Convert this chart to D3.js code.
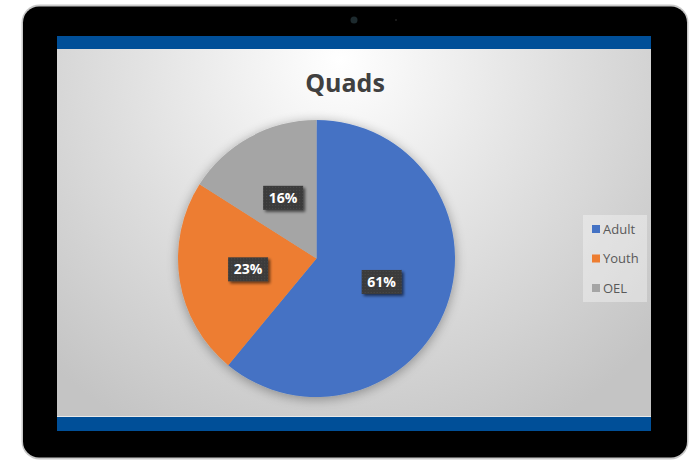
<!DOCTYPE html>
<html>
<head>
<meta charset="utf-8">
<script src="https://cdn.jsdelivr.net/npm/d3@7"></script>
<style>
  html, body { margin: 0; padding: 0; background: #ffffff; }
  svg { display: block; }
</style>
</head>
<body>
<svg id="chart" width="695" height="461"></svg>
<script>
const title = "Quads";
const categories = ["Adult", "Youth", "OEL"];
const values = [61, 23, 16];
const colors = ["#4472C4", "#ED7D31", "#A5A5A5"];

const svg = d3.select("#chart");
const defs = svg.append("defs");

// background gradient for screen
const rg = defs.append("radialGradient").attr("id", "bg")
  .attr("gradientUnits", "userSpaceOnUse")
  .attr("cx", 340).attr("cy", 60).attr("r", 420);
rg.append("stop").attr("offset", "0%").attr("stop-color", "#ffffff");
rg.append("stop").attr("offset", "55%").attr("stop-color", "#dedede");
rg.append("stop").attr("offset", "100%").attr("stop-color", "#c4c4c4");

const shadow = defs.append("filter").attr("id", "pieShadow")
  .attr("x", "-20%").attr("y", "-20%").attr("width", "140%").attr("height", "140%");
shadow.append("feGaussianBlur").attr("in", "SourceAlpha").attr("stdDeviation", 6).attr("result", "b");
shadow.append("feOffset").attr("in", "b").attr("dx", 0).attr("dy", 2).attr("result", "o");
shadow.append("feComponentTransfer").attr("in", "o").attr("result", "s")
  .append("feFuncA").attr("type", "linear").attr("slope", 0.35);
const m1 = shadow.append("feMerge");
m1.append("feMergeNode").attr("in", "s");
m1.append("feMergeNode").attr("in", "SourceGraphic");

const lblShadow = defs.append("filter").attr("id", "lblShadow")
  .attr("x", "-30%").attr("y", "-30%").attr("width", "160%").attr("height", "160%");
lblShadow.append("feGaussianBlur").attr("in", "SourceAlpha").attr("stdDeviation", 1.5).attr("result", "b");
lblShadow.append("feOffset").attr("in", "b").attr("dx", 2).attr("dy", 2).attr("result", "o");
lblShadow.append("feComponentTransfer").attr("in", "o").attr("result", "s")
  .append("feFuncA").attr("type", "linear").attr("slope", 0.6);
const m2 = lblShadow.append("feMerge");
m2.append("feMergeNode").attr("in", "s");
m2.append("feMergeNode").attr("in", "SourceGraphic");

const pat = defs.append("pattern").attr("id", "dots")
  .attr("patternUnits", "userSpaceOnUse").attr("width", 3).attr("height", 3);
pat.append("rect").attr("width", 3).attr("height", 3).attr("fill", "#3b3b3b");
pat.append("rect").attr("x", 1).attr("y", 1).attr("width", 1).attr("height", 1).attr("fill", "#4a4a4a");

// tablet frame
svg.append("rect").attr("x", 21.5).attr("y", 4.5).attr("width", 667).attr("height", 455)
  .attr("rx", 18).attr("fill", "#c8c8c8");
svg.append("rect").attr("x", 23).attr("y", 6.5).attr("width", 664).attr("height", 451)
  .attr("rx", 16).attr("fill", "#000000");
svg.append("circle").attr("cx", 354).attr("cy", 20).attr("r", 3.5).attr("fill", "#1d2a2e");
svg.append("circle").attr("cx", 396).attr("cy", 20).attr("r", 1).attr("fill", "#222");

// screen
const sx = 57, sy = 36, sw = 594, sh = 395;
svg.append("rect").attr("x", sx).attr("y", sy).attr("width", sw).attr("height", sh).attr("fill", "url(#bg)");
svg.append("rect").attr("x", sx).attr("y", sy).attr("width", sw).attr("height", 13).attr("fill", "#004f98");
svg.append("rect").attr("x", sx).attr("y", 417).attr("width", sw).attr("height", 14).attr("fill", "#004f98");
svg.append("line").attr("x1", sx).attr("x2", sx + sw).attr("y1", 416.5).attr("y2", 416.5)
  .attr("stroke", "#e8e8e8").attr("stroke-width", 1);

// title
svg.append("text").attr("x", 345).attr("y", 92).attr("text-anchor", "middle")
  .attr("font-family", "'Open Sans', Lato, sans-serif").attr("font-weight", "bold")
  .attr("font-size", 25).attr("fill", "#404040").text(title);

// pie
const cx = 316.5, cy = 258.5, r = 138.5;
const pie = d3.pie().sort(null).value(d => d)(values);
const arc = d3.arc().innerRadius(0).outerRadius(r);
const labelArc = d3.arc().innerRadius(r * 0.5).outerRadius(r * 0.5);
const g = svg.append("g").attr("transform", `translate(${cx},${cy})`);
g.append("g").attr("filter", "url(#pieShadow)")
  .selectAll("path").data(pie).join("path")
  .attr("d", arc).attr("fill", (d, i) => colors[i]);

const total = d3.sum(values);
const lbl = g.selectAll("g.lbl").data(pie).join("g").attr("class", "lbl")
  .attr("transform", d => { const c = labelArc.centroid(d); return `translate(${c[0]},${c[1]})`; });
lbl.append("rect").attr("x", -20).attr("y", -12).attr("width", 40).attr("height", 24)
  .attr("fill", "url(#dots)").attr("filter", "url(#lblShadow)");
lbl.append("text").attr("text-anchor", "middle").attr("dy", "0.36em")
  .attr("font-family", "'Open Sans', Lato, sans-serif").attr("font-weight", "bold")
  .attr("font-size", 14).attr("fill", "#ffffff")
  .text(d => Math.round(d.data / total * 100) + "%");

// legend
svg.append("rect").attr("x", 583).attr("y", 215).attr("width", 64).attr("height", 87)
  .attr("fill", "#ffffff").attr("fill-opacity", 0.35);
const lg = svg.selectAll("g.leg").data(categories).join("g").attr("class", "leg")
  .attr("transform", (d, i) => `translate(592, ${229 + i * 29.5})`);
lg.append("rect").attr("x", 0).attr("y", -4).attr("width", 8).attr("height", 8)
  .attr("fill", (d, i) => colors[i]);
lg.append("text").attr("x", 11).attr("y", 0).attr("dy", "0.35em")
  .attr("font-family", "'Open Sans', Lato, sans-serif").attr("font-size", 13)
  .attr("fill", "#595959").text(d => d);
</script>
</body>
</html>
